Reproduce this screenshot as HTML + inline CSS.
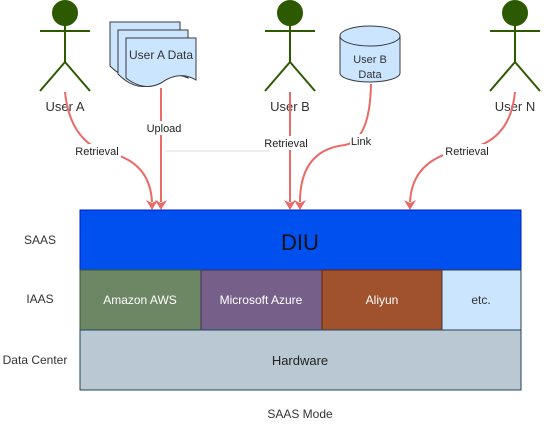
<!DOCTYPE html>
<html><head><meta charset="utf-8"><style>
html,body{margin:0;padding:0;background:#fff;}
svg{display:block;font-family:"Liberation Sans",sans-serif;}
</style></head><body>
<svg width="552" height="441" viewBox="0 0 552 441" xmlns="http://www.w3.org/2000/svg">
<defs>
<marker id="ar" markerWidth="10" markerHeight="10" refX="5" refY="8" orient="auto" markerUnits="userSpaceOnUse" viewBox="0 0 10 10">
<path d="M0,0 L5,3 L10,0 L5,10 Z" fill="#ea6b66" transform="rotate(-90 5 5)"/>
</marker>
<marker id="a" markerWidth="10" markerHeight="10" refX="5" refY="9" orient="auto-start-reverse" markerUnits="userSpaceOnUse" viewBox="0 0 10 10">
<path d="M0,0 L10,5 L0,10 L3,5 Z" fill="#ea6b66" transform="rotate(0)"/>
</marker>
</defs>
<g stroke="#2d5a00" stroke-width="2" fill="none">
<g id="act">
<circle cx="65" cy="13" r="12" fill="#2d5a00"/>
<line x1="65" y1="25" x2="65" y2="62"/>
<line x1="40" y1="31" x2="90" y2="31"/>
<line x1="65" y1="62" x2="40" y2="91"/>
<line x1="65" y1="62" x2="90" y2="91"/>
</g>
<use href="#act" x="225"/>
<use href="#act" x="450"/>
</g>
<g font-size="13" fill="#333" text-anchor="middle">
<text x="65" y="111">User A</text>
<text x="290" y="111">User B</text>
<text x="515" y="111">User N</text>
</g>
<!-- documents -->
<g fill="#cce5ff" stroke="#36393d" stroke-width="1">
<path d="M110,22 H180 V70 Q163,62 145,76 Q128,84 110,66 Z"/>
<path d="M118,30 H188 V78 Q171,70 153,84 Q136,92 118,74 Z"/>
<path d="M126,38 H196 V80 Q179,70 161,83 Q144,92 126,78 Z"/>
</g>
<text x="161" y="59" font-size="12" fill="#333" text-anchor="middle">User A Data</text>
<!-- cylinder -->
<path d="M340,36 V73 A30,9 0 0 0 400,73 V36" fill="#cce5ff" stroke="#36393d"/>
<ellipse cx="370" cy="36" rx="30" ry="10" fill="#cce5ff" stroke="#36393d"/>
<text x="370" y="63" font-size="11" fill="#333" text-anchor="middle">User B</text>
<text x="370" y="78" font-size="11" fill="#333" text-anchor="middle">Data</text>
<!-- faint line -->
<line x1="165" y1="151" x2="270" y2="151" stroke="#eee" stroke-width="2"/>
<!-- arrows -->
<g stroke="#ea6b66" stroke-width="2" fill="none">
<path d="M65,92 Q70,140 105,152 Q150,160 152,202"/>
<path d="M161,88 V202"/>
<path d="M290,92 V202"/>
<path d="M371,84 Q370,140 345,145 Q300,150 300,202"/>
<path d="M515,92 Q510,145 460,150 Q412,160 410,202"/>
</g>
<g fill="#ea6b66">
<path d="M146,200 L152,210 L158,200 L152,203 Z"/>
<path d="M155,200 L161,210 L167,200 L161,203 Z"/>
<path d="M284,200 L290,210 L296,200 L290,203 Z"/>
<path d="M294,200 L300,210 L306,200 L300,203 Z"/>
<path d="M404,200 L410,210 L416,200 L410,203 Z"/>
</g>
<g font-size="11" fill="#222" text-anchor="middle">
<rect x="74" y="144" width="47" height="14" fill="#fff"/><text x="97" y="155">Retrieval</text>
<rect x="145" y="121" width="38" height="14" fill="#fff"/><text x="164" y="132">Upload</text>
<rect x="263" y="136" width="47" height="14" fill="#fff"/><text x="286" y="147">Retrieval</text>
<rect x="350" y="134" width="22" height="14" fill="#fff"/><text x="361" y="145">Link</text>
<rect x="443" y="144" width="48" height="14" fill="#fff"/><text x="467" y="155">Retrieval</text>
</g>
<!-- stack -->
<rect x="80" y="210" width="441" height="60" fill="#0050ef" stroke="#001dbc"/>
<text x="300" y="250" font-size="22" fill="#111" text-anchor="middle">DIU</text>
<rect x="80" y="270" width="121" height="60" fill="#6d8764" stroke="#3a5431"/>
<rect x="201" y="270" width="121" height="60" fill="#76608a" stroke="#432d57"/>
<rect x="322" y="270" width="120" height="60" fill="#a0522d" stroke="#6d1f00"/>
<rect x="442" y="270" width="79" height="60" fill="#cce5ff" stroke="#36393d"/>
<rect x="80" y="330" width="441" height="60" fill="#bac8d3" stroke="#23445d"/>
<g font-size="12" text-anchor="middle">
<text x="140" y="304" fill="#fff">Amazon AWS</text>
<text x="261" y="304" fill="#fff">Microsoft Azure</text>
<text x="382" y="304" fill="#fff">Aliyun</text>
<text x="481" y="304" fill="#333">etc.</text>
<text x="300" y="365" fill="#222" font-size="13">Hardware</text>
<text x="40" y="244" fill="#333">SAAS</text>
<text x="40" y="303" fill="#333">IAAS</text>
<text x="35" y="364" fill="#333">Data Center</text>
<text x="300" y="418" fill="#333">SAAS Mode</text>
</g>
</svg>
</body></html>
